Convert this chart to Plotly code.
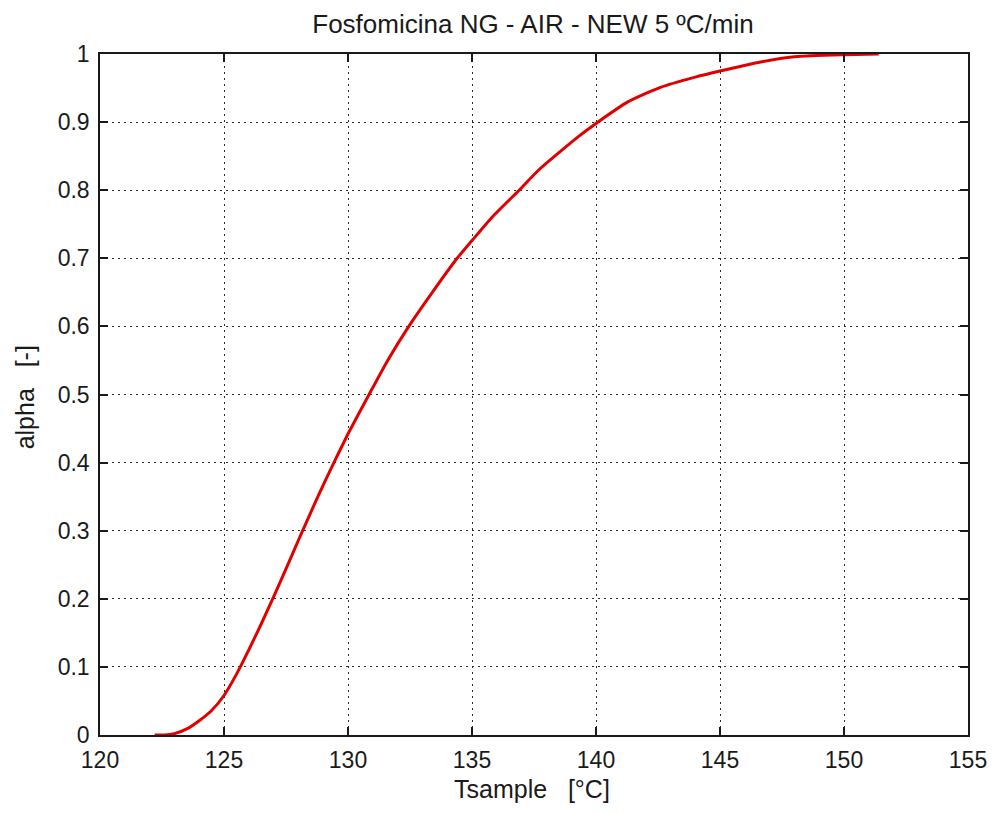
import plotly.graph_objects as go

# Conversion curve: sample temperature [°C] vs. degree of conversion alpha [-]
t_sample = [122.2, 122.6, 123.0, 123.5, 124.0, 124.5, 125.0, 125.5, 126.0, 126.5,
            127.0, 127.5, 128.0, 128.5, 129.0, 129.5, 130.0, 130.85, 131.6, 132.45,
            133.4, 134.4, 135.0, 135.8, 136.9, 137.7, 138.6, 139.3, 140.0, 141.3,
            142.6, 144.0, 145.0, 146.6, 148.0, 150.0, 151.4]
alpha = [0.0, 0.0, 0.002, 0.009, 0.021, 0.036, 0.058, 0.089, 0.125, 0.163,
         0.203, 0.244, 0.286, 0.327, 0.367, 0.405, 0.442, 0.500, 0.550, 0.600,
         0.650, 0.700, 0.726, 0.760, 0.800, 0.830, 0.858, 0.879, 0.898, 0.930,
         0.951, 0.966, 0.975, 0.988, 0.996, 0.999, 1.0]

x_ticks = [120, 125, 130, 135, 140, 145, 150, 155]
y_ticks = [0, 0.1, 0.2, 0.3, 0.4, 0.5, 0.6, 0.7, 0.8, 0.9, 1]
y_tick_text = ["0", "0.1", "0.2", "0.3", "0.4", "0.5", "0.6", "0.7", "0.8", "0.9", "1"]

FONT = "Liberation Sans, Arial, sans-serif"
INK = "#1a1a1a"
W, H = 999, 814

fig = go.Figure()
fig.add_trace(go.Scatter(
    x=t_sample, y=alpha, mode="lines",
    line=dict(color="#e00000", width=3, shape="spline", smoothing=0.6),
    showlegend=False,
))

axis_common = dict(
    showline=True, linecolor=INK, linewidth=1.5, mirror="ticks",
    ticks="inside", ticklen=8, tickwidth=1.5, tickcolor=INK,
    showgrid=True, gridcolor="#2a2a2a", gridwidth=1, griddash="2px,4px",
    zeroline=False,
    tickfont=dict(family=FONT, size=23, color=INK),
)

fig.update_xaxes(range=[120, 155], tickvals=x_ticks, ticktext=[str(v) for v in x_ticks],
                 ticklabelstandoff=4, **axis_common)
fig.update_yaxes(range=[0, 1], tickvals=y_ticks, ticktext=y_tick_text,
                 ticklabelstandoff=4, **axis_common)

label_font = dict(family=FONT, size=25, color=INK)
fig.add_annotation(text="Tsample   [°C]", xref="paper", yref="paper",
                   x=(534 - 100) / 872, y=-(790 - 735.5) / 682,
                   xanchor="center", yanchor="middle", showarrow=False, font=label_font)
fig.add_annotation(text="alpha   [-]", xref="paper", yref="paper",
                   x=-(100 - 25) / 872, y=(735.5 - 397) / 682, textangle=-90,
                   xanchor="center", yanchor="middle", showarrow=False, font=label_font)

fig.update_layout(
    width=W, height=H,
    margin=dict(l=100, r=27, t=53.5, b=78.5),
    paper_bgcolor="white", plot_bgcolor="white",
    title=dict(
        text="Fosfomicina NG - AIR - NEW 5 ºC/min",
        font=dict(family=FONT, size=26, color=INK),
        x=533 / W, xanchor="center", xref="container",
        y=1 - 24 / H, yanchor="middle", yref="container",
    ),
)

fig.write_html("out.html")
